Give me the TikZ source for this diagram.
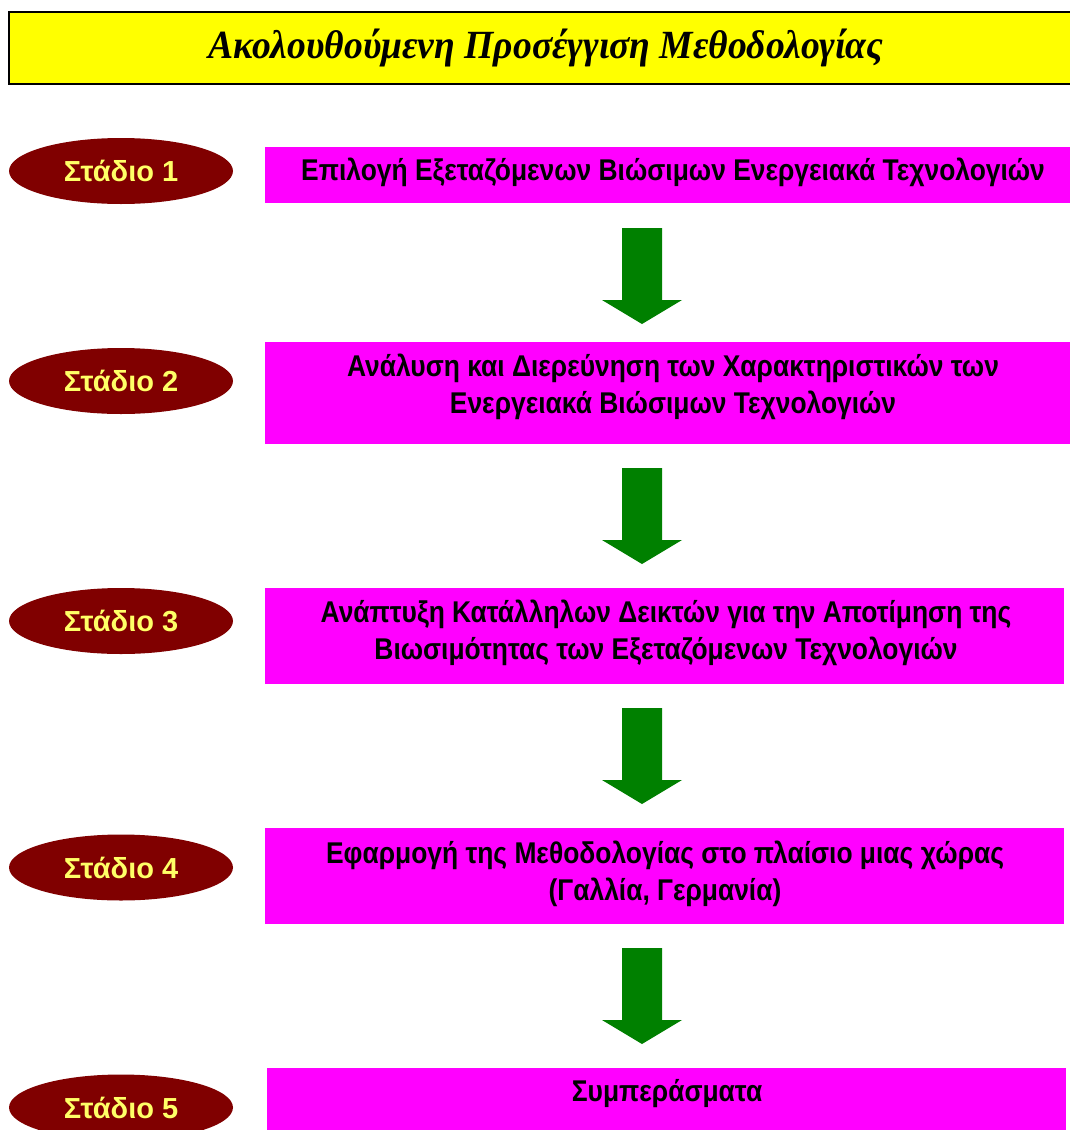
\documentclass[tikz,border=0pt]{standalone}
\usepackage{fontspec}
\setmainfont{Liberation Serif}
\newfontfamily\boxfont[FakeStretch=0.88]{Liberation Sans}
\newfontfamily\stagefont{Liberation Sans}
\newfontfamily\headfont[FakeStretch=0.94]{Liberation Serif}
\usetikzlibrary{shapes.geometric}
\definecolor{stagered}{HTML}{800000}
\definecolor{stageyellow}{HTML}{FFFF66}
\definecolor{boxmagenta}{HTML}{FF00FF}
\definecolor{arrowgreen}{HTML}{008000}
\definecolor{titleyellow}{HTML}{FFFF00}
\tikzset{
  titlebox/.style={draw=black, line width=2pt, fill=titleyellow},
  stage/.style={ellipse, fill=stagered, minimum width=224pt, minimum height=66pt,
    inner sep=0pt, text=stageyellow, font=\stagefont\bfseries\fontsize{29}{32}\selectfont},
  stepbox/.style={fill=boxmagenta},
  steptext/.style={align=center, inner sep=0pt, font=\boxfont\bfseries\fontsize{30}{37}\selectfont},
  downarrow/.pic={\fill[arrowgreen] (-20,0) -- (20,0) -- (20,72) -- (40,72) -- (0,96)
     -- (-40,72) -- (-20,72) -- cycle;}
}
\begin{document}
\begin{tikzpicture}[x=1pt, y=-1pt]
\useasboundingbox (0,0) rectangle (1070,1130);

% heading
\draw[titlebox] (9,12) rectangle (1080,84);
\node[font=\headfont\bfseries\itshape\fontsize{40}{44}\selectfont, anchor=base] (title) at (546,58)
  {Ακολουθούμενη Προσέγγιση Μεθοδολογίας};

% stage ellipses
\node[stage] (s1) at (121,171) {Στάδιο 1};
\node[stage] (s2) at (121,381) {Στάδιο 2};
\node[stage] (s3) at (121,621) {Στάδιο 3};
\node[stage] (s4) at (121,867.5) {Στάδιο 4};
\node[stage] (s5) at (121,1107.5) {Στάδιο 5};

% step boxes
\fill[stepbox] (265,147) rectangle (1070,203);
\fill[stepbox] (265,342) rectangle (1070,444);
\fill[stepbox] (265,588) rectangle (1064,684);
\fill[stepbox] (265,828) rectangle (1064,924);
\fill[stepbox] (267,1068) rectangle (1066,1140);

% step texts
\node[steptext] (t1) at (673,172) {Επιλογή Εξεταζόμενων Βιώσιμων Ενεργειακά Τεχνολογιών};
\node[steptext] (t2) at (673,386.5) {Ανάλυση και Διερεύνηση των Χαρακτηριστικών των\\Ενεργειακά Βιώσιμων Τεχνολογιών};
\node[steptext] (t3) at (666,632.5) {Ανάπτυξη Κατάλληλων Δεικτών για την Αποτίμηση της\\Βιωσιμότητας των Εξεταζόμενων Τεχνολογιών};
\node[steptext] (t4) at (665,873.5) {Εφαρμογή της Μεθοδολογίας στο πλαίσιο μιας χώρας\\(Γαλλία, Γερμανία)};
\node[steptext] (t5) at (667,1094) {Συμπεράσματα};

% block arrows between the steps
\coordinate (a1) at (642,228);
\coordinate (a2) at (642,468);
\coordinate (a3) at (642,708);
\coordinate (a4) at (642,948);
\foreach \a in {a1,a2,a3,a4} { \pic at (\a) {downarrow}; }
\end{tikzpicture}
\end{document}
